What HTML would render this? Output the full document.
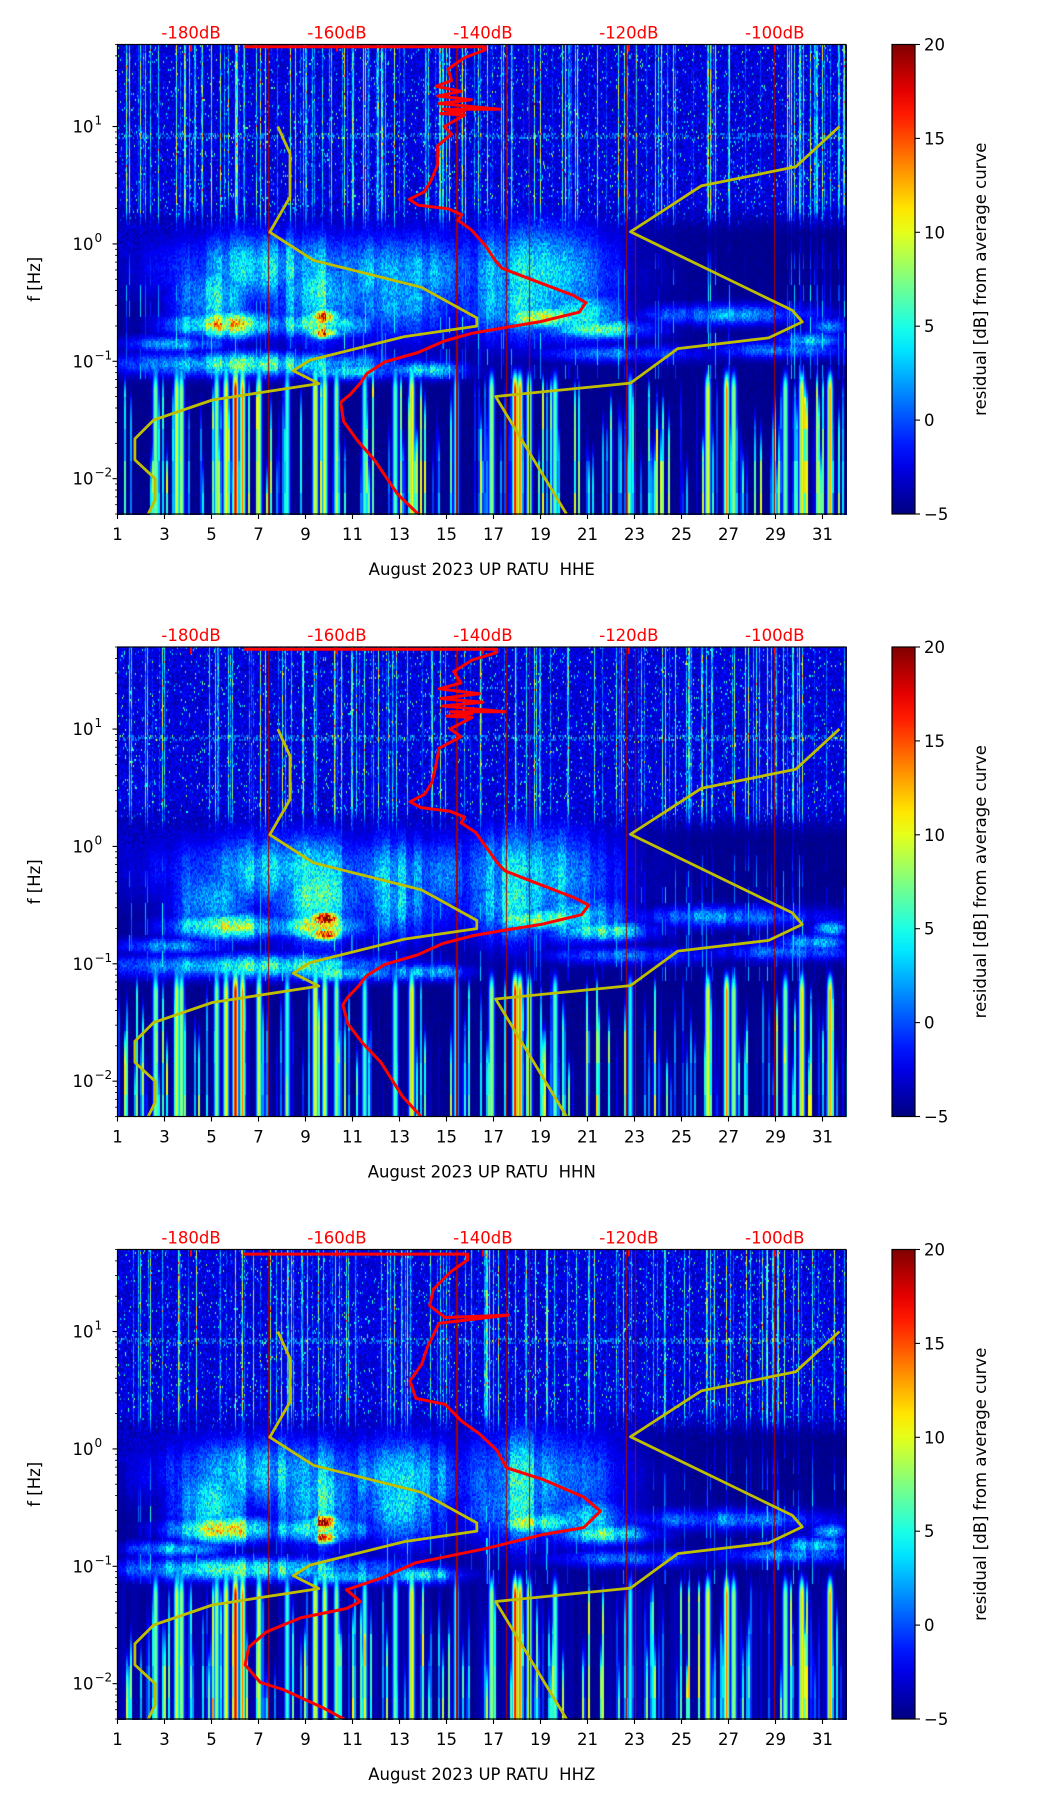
<!DOCTYPE html>
<html><head><meta charset="utf-8">
<style>
html,body{margin:0;padding:0;background:#fff;}
#wrap{position:relative;width:1052px;height:1806px;overflow:hidden;}
canvas{position:absolute;}
svg{position:absolute;left:0;top:0;}
text{font-family:"DejaVu Sans","Liberation Sans",sans-serif;}
</style></head>
<body>
<div id="wrap">
<svg id="svg" width="1052" height="1806"></svg>
</div>
<script>
// ---------- data ----------
const panelNames = ["HHE","HHN","HHZ"];
const xTicks = [1,3,5,7,9,11,13,15,17,19,21,23,25,27,29,31];
const yTickExp = [-2,-1,0,1];
const dbTicks = [-180,-160,-140,-120,-100];
const cbTicks = [-5,0,5,10,15,20];
// yellow model curves (day, log10 f)
const yellowLeftDays = [7.82,8.34,8.34,7.48,9.34,13.93,16.29,16.29,13.21,9.19,8.48,9.57,5.04,2.54,1.74,1.74,2.6,2.6,2.31];
const yellowLeftLogf = [1.0,0.77,0.40,0.10,-0.14,-0.37,-0.63,-0.70,-0.79,-0.99,-1.08,-1.19,-1.33,-1.50,-1.66,-1.84,-2.0,-2.18,-2.3];
const yellowRightDays = [31.72,29.86,25.84,22.83,29.72,30.14,28.71,24.84,22.83,17.09,20.1];
const yellowRightLogf = [1.0,0.657,0.494,0.103,-0.566,-0.664,-0.801,-0.892,-1.186,-1.30,-2.30];
// red PSD curves (dB, log10 f)
const redLf1 = [1.68,1.68,1.653,1.587,1.489,1.392,1.343,1.30,1.26,1.228,1.196,1.147,1.147,1.13,1.11,1.098,1.0,0.935,0.837,0.674,0.543,0.445,0.380,0.331,0.299,0.250,0.201,0.119,-0.011,-0.142,-0.207,-0.305,-0.436,-0.501,-0.582,-0.664,-0.713,-0.762,-0.827,-0.925,-1.007,-1.104,-1.186,-1.284,-1.349,-1.512,-1.675,-1.838,-2.132,-2.30];
const redDb1 = [-172.7,-139.7,-139.7,-142.5,-144.8,-144.3,-146.4,-143.0,-146.2,-141.6,-146.0,-137.7,-145.5,-142.5,-145.8,-142.5,-145.3,-144.3,-146.2,-146.2,-147.1,-148.0,-150.1,-148.9,-144.8,-142.9,-143.4,-141.6,-139.7,-138.3,-137.4,-133.3,-127.7,-125.9,-126.8,-132.3,-137.0,-141.6,-145.3,-148.9,-153.5,-155.9,-156.8,-158.2,-159.5,-159.1,-157.2,-154.9,-151.7,-148.9];
const redLf2 = [1.68,1.68,1.653,1.587,1.489,1.392,1.343,1.30,1.26,1.228,1.196,1.147,1.147,1.13,1.11,1.098,1.0,0.935,0.837,0.674,0.543,0.445,0.380,0.331,0.299,0.250,0.201,0.119,-0.011,-0.142,-0.207,-0.305,-0.436,-0.501,-0.582,-0.664,-0.713,-0.762,-0.827,-0.925,-1.007,-1.104,-1.186,-1.284,-1.349,-1.512,-1.675,-1.838,-2.132,-2.30];
const redDb2 = [-172.7,-138.1,-138.1,-141.5,-144.0,-143.0,-146.0,-140.5,-145.8,-140.0,-145.5,-137.0,-144.5,-141.5,-145.0,-141.5,-144.5,-143.0,-146.0,-146.5,-147.0,-148.0,-150.0,-148.5,-144.5,-142.5,-143.0,-141.0,-139.5,-138.0,-137.0,-133.0,-127.5,-125.5,-126.5,-132.0,-137.0,-141.5,-145.5,-149.0,-153.5,-156.0,-157.0,-158.5,-159.2,-158.5,-156.5,-154.0,-151.0,-148.5];
const redDb3 = [-172.9,-142.1,-142.1,-144.4,-146.8,-147.3,-145.2,-136.5,-146.0,-147.6,-148.4,-150.0,-149.2,-145.2,-142.8,-140.5,-138.1,-136.8,-131.8,-126.2,-123.9,-126.2,-131.8,-139.7,-149.2,-153.9,-158.7,-156.8,-158.7,-165.0,-169.7,-172.1,-172.6,-170.5,-167.4,-161.8,-157.9];
const redLf3 = [1.66,1.66,1.61,1.51,1.36,1.22,1.12,1.14,1.07,0.87,0.72,0.58,0.43,0.38,0.23,0.13,-0.01,-0.16,-0.26,-0.41,-0.53,-0.67,-0.73,-0.85,-0.97,-1.10,-1.20,-1.30,-1.36,-1.44,-1.56,-1.69,-1.84,-1.99,-2.05,-2.21,-2.34];
// spectrogram features: blobs [day, log10 f, sigmaDay, sigmaLog, amplitude above floor]
const blobDay  = [5.5, 9.8, 9.8, 9.5, 8.0, 13.0, 18.5, 19.0, 21.5, 27.0, 30.5, 31.3, 7.0, 10.5, 14.0, 22.5, 29.5, 4.5, 5.0, 9.5, 13.0, 18.0, 20.5, 3.5];
const blobLogf = [-0.68,-0.62,-0.75,-0.68,-0.2,-0.25,-0.25,-0.62,-0.72,-0.6,-0.82,-0.7,-1.02,-1.08,-1.07,-0.93,-0.9,-0.35,-0.45,-0.4,-0.45,-0.45,-0.6,-0.85];
const blobSd   = [1.5, 0.5, 0.5, 1.5, 3.5, 2.5, 2.5, 1.5, 1.5, 3.0, 1.0, 0.6, 4.0, 1.5, 1.2, 2.5, 2.0, 1.0, 1.2, 1.5, 1.5, 1.8, 1.5, 1.5];
const blobSl   = [0.08,0.05,0.04,0.08,0.22,0.25,0.3,0.07,0.06,0.06,0.05,0.05,0.07,0.05,0.05,0.05,0.05,0.2,0.25,0.3,0.25,0.25,0.15,0.05];
const blobAmp  = [14, 20, 18, 12, 8, 7, 8, 12, 10, 6, 8, 7, 10, 9, 8, 5, 6, 6, 8, 9, 7, 8, 8, 7];
// low-frequency streaks [day, value]
const lowDays = [2.6,3.5,3.7,5.2,5.6,6.0,6.3,7.0,8.2,9.4,9.8,10.3,11.5,12.8,13.5,15.4,16.9,17.9,18.1,18.5,19.6,22.8,26.1,26.9,27.2,29.4,30.1,31.3];
const lowVals = [8,10,9,8,11,18,14,10,6,11,10,8,6,7,12,7,9,17,14,10,7,5,11,14,9,8,12,13];
// thin dark red vertical lines (days)
const redLineDays = [7.4,15.4,17.5,18.5,22.6,23.0,28.9];

// ---------- geometry ----------
const L=117.5, W=728.5, H=469.5, tops=[44.5,647,1249.5];
const CBX=892, CBW=23;
const LFMAX=Math.log10(50), LFMIN=Math.log10(0.005);
const xS=d=>L+(d-1)/31*W;
const yS=(lf,t)=>t+(LFMAX-lf)/(LFMAX-LFMIN)*H;
const dbToDay=db=>4.13+(db+180)*6.21/20;
function jet(v){let t=(v+5)/25;t=Math.max(0,Math.min(1,t));
  const c=x=>Math.max(0,Math.min(1,x));
  return [c(1.5-Math.abs(4*t-3))*255,c(1.5-Math.abs(4*t-2))*255,c(1.5-Math.abs(4*t-1))*255];}
function hash(a,b,c){let h=(a*374761393+b*668265263+c*2246822519)|0;h=(h^(h>>>13))*1274126177|0;h^=h>>>16;return ((h>>>0)%100000)/100000;}
const sm=(e0,e1,x)=>{let t=Math.max(0,Math.min(1,(x-e0)/(e1-e0)));return t*t*(3-2*t);};

const wrap=document.getElementById('wrap');
const svg=document.getElementById('svg');
const NS="http://www.w3.org/2000/svg";
function el(tag,attrs,parent){const e=document.createElementNS(NS,tag);for(const k in attrs)e.setAttribute(k,attrs[k]);(parent||svg).appendChild(e);return e;}

tops.forEach((T,p)=>{
  const cv=document.createElement('canvas');
  
  
  const cw=Math.round(W), ch=Math.round(H);
  cv.width=cw;cv.height=ch;cv.style.left=L+'px';cv.style.top=T+'px';
  wrap.insertBefore(cv,svg);
  const ctx=cv.getContext('2d');const img=ctx.createImageData(cw,ch);
  const colS=[],colL=[],colTop=[],colW=[];
  for(let x=0;x<cw;x++){const h=hash(x,7,p+1);colS.push(h>0.8?(h-0.8)/0.2*15:0);
    const h2=hash(x>>1,11,p+5);colL.push(h2>0.55?(h2-0.55)/0.45*17:0);colTop.push(-1.1-0.9*hash(x>>1,13,p));
    colW.push(0.7+0.6*hash(x>>3,17,p));}
  for(let y=0;y<ch;y+=2){
    const lf=LFMAX-(y+1)/H*(LFMAX-LFMIN);
    for(let x=0;x<cw;x++){
      const d=1+(x+0.5)/W*31;
      const n=hash(x,y,p);
      let v=-5+0.8*n;
      let add=0;
      for(let i=0;i<blobDay.length;i++){
        const a=(d-blobDay[i])/blobSd[i], b=(lf-blobLogf[i])/blobSl[i];
        add=Math.max(add,blobAmp[i]*Math.exp(-0.5*(a*a+b*b)));
      }
      v+=add*(0.7+0.6*hash(x,y,p+9))*colW[x];
      const hf=sm(0.05,0.4,lf);
      let vh=-4.2+3*n+(n>0.95?9*hash(x,y,p+3):0)+colS[x]*(0.4+0.6*hash(x,y>>3,p+2));
      if(lf>0.9&&lf<0.95&&n>0.6) vh+=3;
      v = v*(1-hf)+Math.max(v,vh)*hf;
      if(lf>-0.1&&lf<0.4&&d<23) v=Math.max(v,-4.5+2.5*n*sm(0.45,0.1,lf));
      if(lf<0.3&&lf>-1.15) v=Math.max(v,-5+colS[x]*0.5*sm(0.3,-0.5,lf)*hash(x,y>>4,p+4)*1.5);
      const lw=sm(-1.0,-1.25,lf);
      if(lw>0){
        let s=-5;
        if(lf<colTop[x]+0.3) s=-5+colL[x]*(0.6+0.4*hash(x>>1,y>>5,p+7))*sm(colTop[x]+0.3,colTop[x]-0.2,lf);
        if(p==2) s+=1.5*hash(x>>2,1,p);
        for(let i=0;i<lowDays.length;i++){const a=(d-lowDays[i])/0.08;s=Math.max(s,-5+(lowVals[i]+5)*Math.exp(-0.5*a*a));}
        v=v*(1-lw)+Math.max(v,s)*lw;
      }
      for(let i=0;i<redLineDays.length;i++){if(Math.abs(xS(redLineDays[i])-L-x)<0.6)v=19;}
      const c=jet(v);
      for(let dy=0;dy<2&&y+dy<ch;dy++){const k=((y+dy)*cw+x)*4;img.data[k]=c[0];img.data[k+1]=c[1];img.data[k+2]=c[2];img.data[k+3]=255;}
    }
  }
  ctx.putImageData(img,0,0);

  const g=el('g',{});
  
  
  const B=T+H;
  const cp=el('clipPath',{id:'clip'+p},g);el('rect',{x:L,y:T,width:W,height:H},cp);
  const cg=el('g',{'clip-path':'url(#clip'+p+')'},g);
  const lineC=(xs,ys,color,w,name)=>{
    const pts=xs.map((v,i)=>xS(v).toFixed(1)+','+yS(ys[i],T).toFixed(1)).join(' ');
    const pl=el('polyline',{points:pts,fill:'none',stroke:color,'stroke-width':w,'stroke-linejoin':'round'},cg);
    
    
  };
  lineC(yellowLeftDays,yellowLeftLogf,'#bfbf00',2.8,'model-curve-low');
  lineC(yellowRightDays,yellowRightLogf,'#bfbf00',2.8,'model-curve-high');
  const rd=[redDb1,redDb2,redDb3][p], rl=[redLf1,redLf2,redLf3][p];
  lineC(rd.map(dbToDay),rl,'#ff0000',3,'psd-curve');
  dbTicks.forEach(db=>{
    const x=xS(dbToDay(db));
    const t=el('line',{x1:x,y1:T,x2:x,y2:T+7,stroke:'#ff0000','stroke-width':2},g);
    
    const tx=el('text',{x:x,y:T-6,'text-anchor':'middle','font-size':16.5,fill:'#ff0000'},g);
    tx.textContent=db+'dB';
  });
  const fr=el('rect',{x:L,y:T,width:W,height:H,fill:'none',stroke:'#000','stroke-width':1.2},g);
  
  xTicks.forEach(d=>{const x=xS(d);
    el('line',{x1:x,y1:B,x2:x,y2:B+5,stroke:'#000','stroke-width':1.1},g);
    const t=el('text',{x:x,y:B+26,'text-anchor':'middle','font-size':16.5,fill:'#000'},g);
    t.textContent=d;});
  const xl=el('text',{x:L+W/2,y:B+61,'text-anchor':'middle','font-size':16.5,fill:'#000'},g);
  xl.textContent='August 2023 UP RATU\u00a0\u00a0'+panelNames[p];
  
  for(let e=-3;e<=1;e++){for(let m=1;m<10;m++){const lf=e+Math.log10(m);if(lf<LFMIN||lf>LFMAX)continue;const y=yS(lf,T);
    el('line',{x1:L,y1:y,x2:L-(m==1?5:2.5),y2:y,stroke:'#000','stroke-width':m==1?1.1:0.8},g);}}
  yTickExp.forEach(e=>{const y=yS(e,T);
    const t=el('text',{x:L-24,y:y+6,'text-anchor':'end','font-size':16.5,fill:'#000'},g);
    t.textContent='10';
    const s=el('text',{x:L-23,y:y-2,'text-anchor':'start','font-size':12,fill:'#000'},g);
    s.textContent=(e<0?'\u2212':'')+Math.abs(e);});
  const yl=el('text',{x:0,y:0,'text-anchor':'middle','font-size':16.5,fill:'#000',transform:`translate(40,${T+H/2}) rotate(-90)`},g);
  yl.textContent='f [Hz]';
  const gid='cbg'+p;const lg=el('linearGradient',{id:gid,x1:0,y1:1,x2:0,y2:0},g);
  for(let i=0;i<=20;i++){const c=jet(-5+25*i/20);el('stop',{offset:i/20,'stop-color':`rgb(${c.map(Math.round).join(',')})`},lg);}
  const cb=el('rect',{x:CBX,y:T,width:CBW,height:H,fill:`url(#${gid})`,stroke:'#000','stroke-width':1.2},g);
  
  cbTicks.forEach(v=>{const y=T+H-(v+5)/25*H;
    el('line',{x1:CBX+CBW,y1:y,x2:CBX+CBW+5,y2:y,stroke:'#000','stroke-width':1.1},g);
    const t=el('text',{x:CBX+CBW+9,y:y+6,'font-size':16.5,fill:'#000'},g);
    t.textContent=v<0?'\u2212'+Math.abs(v):v;});
  const cl=el('text',{x:0,y:0,'text-anchor':'middle','font-size':16.5,fill:'#000',transform:`translate(986,${T+H/2}) rotate(-90)`},g);
  cl.textContent='residual [dB] from average curve';
});
</script>
</body></html>
